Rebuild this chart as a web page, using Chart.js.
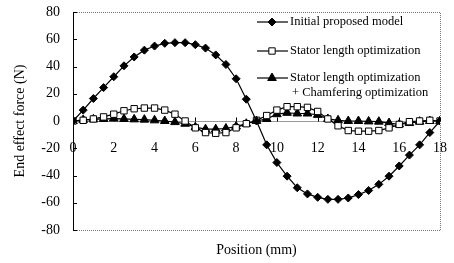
<!DOCTYPE html>
<html><head><meta charset="utf-8">
<script src="https://cdn.jsdelivr.net/npm/chart.js@4/dist/chart.umd.min.js"></script>
<style>html,body{margin:0;padding:0;background:#fff;overflow:hidden}#wrap{width:454px;height:263px;position:relative}</style>
</head><body><div id="wrap"><canvas id="c" width="454" height="263"></canvas></div>
<script>
const positions = [0,0.5,1,1.5,2,2.5,3,3.5,4,4.5,5,5.5,6,6.5,7,7.5,8,8.5,9,9.5,10,10.5,11,11.5,12,12.5,13,13.5,14,14.5,15,15.5,16,16.5,17,17.5,18];
const initialModel = [0,8,16.5,24.5,32.5,40.5,47,52,55,57,57.5,57.5,56,53.5,48.5,41.5,31,16,0,-17.5,-30.5,-40.5,-49,-53.5,-56,-57.5,-57.5,-56.5,-54,-51,-46.5,-40.5,-33,-25,-17.5,-8.5,0];
const statorOpt = [0,0.5,1.5,3,5,7.5,9,9.5,9.5,8,5,0,-5,-8.5,-9,-8.5,-5,-2,0.5,4,8,10.5,10.5,10,7,1.5,-3.5,-7,-7.5,-7.5,-7,-5,-2.5,-0.5,0,0.5,0];
const chamferOpt = [0,0.8,1.2,1.5,1.8,1.5,1.2,1,0.5,0,-0.8,-2,-4.5,-6,-6,-5.5,-4,-2,0,1.5,5,6,5.5,5.5,4.5,1.5,0.5,0,0,-0.3,-0.5,-1.5,-2.5,-1.5,-0.5,0,0];
const xTicks = [0,2,4,6,8,10,12,14,16,18];
const yTicks = [-80,-60,-40,-20,0,20,40,60,80];
const seriesNames = [["Initial proposed model"],["Stator length optimization"],["Stator length optimization","+ Chamfering optimization"]];
const xTitle = "Position (mm)";
const yTitle = "End effect force (N)";

const FONT = "'Liberation Serif','Times New Roman',serif";
const toPts = arr => positions.map((x,i)=>({x:x,y:arr[i]}));

function marker(ctx, style, r, x, y, fill) {
  ctx.beginPath();
  if (style === 'rectRot') {
    ctx.moveTo(x, y - r); ctx.lineTo(x + r, y); ctx.lineTo(x, y + r); ctx.lineTo(x - r, y); ctx.closePath();
  } else if (style === 'rect') {
    const s = r * Math.SQRT1_2; ctx.rect(x - s, y - s, 2 * s, 2 * s);
  } else {
    const c = Math.cos(Math.PI/6) * r;
    ctx.moveTo(x, y - r); ctx.lineTo(x + c, y + r/2); ctx.lineTo(x - c, y + r/2); ctx.closePath();
  }
  ctx.fillStyle = fill; ctx.fill();
  ctx.strokeStyle = '#000'; ctx.lineWidth = 1; ctx.stroke();
}

const decor = {
  id: 'decor',
  afterDraw(chart) {
    const ctx = chart.ctx, a = chart.chartArea;
    const xs = chart.scales.x, ys = chart.scales.y;
    ctx.save();
    ctx.strokeStyle = '#777'; ctx.lineWidth = 1; ctx.setLineDash([1,1]);
    ctx.beginPath();
    ctx.moveTo(a.left, Math.round(a.top) + 0.5); ctx.lineTo(Math.round(a.right) + 0.5, Math.round(a.top) + 0.5);
    ctx.lineTo(Math.round(a.right) + 0.5, Math.round(a.bottom) + 0.5); ctx.lineTo(a.left, Math.round(a.bottom) + 0.5);
    ctx.stroke();
    ctx.setLineDash([]);
    ctx.strokeStyle = '#000'; ctx.lineWidth = 1;
    ctx.beginPath();
    yTicks.forEach(v => { const py = Math.round(ys.getPixelForValue(v)) + 0.5; ctx.moveTo(a.left, py); ctx.lineTo(a.left + 4, py); });
    const zy = Math.round(ys.getPixelForValue(0)) + 0.5;
    xTicks.forEach(v => { const px = Math.round(xs.getPixelForValue(v)) + 0.5; ctx.moveTo(px, zy); ctx.lineTo(px, zy - 4); });
    ctx.stroke();
    ctx.fillStyle = '#000'; ctx.font = '14px ' + FONT; ctx.textAlign = 'center'; ctx.textBaseline = 'middle';
    ctx.fillText(xTitle, (a.left + a.right) / 2, 250);
    const rows = [22, 51, 78];
    ctx.font = '12.5px ' + FONT; ctx.textAlign = 'left';
    chart.data.datasets.forEach((ds, i) => {
      const y = rows[i];
      ctx.strokeStyle = '#000'; ctx.lineWidth = 1.2;
      ctx.beginPath(); ctx.moveTo(257, y); ctx.lineTo(288, y); ctx.stroke();
      marker(ctx, ds.pointStyle, ds.pointRadius, 272, y, ds.pointBackgroundColor);
      ctx.fillStyle = '#000';
      ds.label.forEach((t, j) => ctx.fillText(t, j === 0 ? 290 : 292, y + j * 15));
    });
    ctx.restore();
  }
};

new Chart(document.getElementById('c'), {
  type: 'line',
  data: {
    datasets: [
      { label: seriesNames[0], data: toPts(initialModel), borderColor: '#000', borderWidth: 1.2, pointStyle: 'rectRot', pointRadius: 4, pointBackgroundColor: '#000', pointBorderColor: '#000', pointBorderWidth: 1, tension: 0 },
      { label: seriesNames[1], data: toPts(statorOpt), borderColor: '#000', borderWidth: 1.2, pointStyle: 'rect', pointRadius: 4.5, pointBackgroundColor: '#fff', pointBorderColor: '#000', pointBorderWidth: 1, tension: 0 },
      { label: seriesNames[2], data: toPts(chamferOpt), borderColor: '#000', borderWidth: 1.2, pointStyle: 'triangle', pointRadius: 5, pointBackgroundColor: '#000', pointBorderColor: '#000', pointBorderWidth: 1, tension: 0 }
    ]
  },
  options: {
    responsive: false, devicePixelRatio: 1, animation: false,
    layout: { padding: { left: 0, right: 14, top: 12, bottom: 33 } },
    plugins: { legend: { display: false }, tooltip: { enabled: false }, title: { display: false } },
    scales: {
      x: {
        type: 'linear', min: 0, max: 18, position: { y: 0 },
        afterBuildTicks: s => { s.ticks = xTicks.map(v => ({ value: v })); },
        afterFit: s => { s.paddingLeft = 0; s.paddingRight = 0; },
        grid: { drawOnChartArea: false, drawTicks: false },
        border: { display: true, color: '#999', width: 1 },
        ticks: { color: '#000', font: { family: FONT, size: 14 }, padding: 19, maxRotation: 0, autoSkip: false }
      },
      y: {
        min: -80, max: 80,
        afterBuildTicks: s => { s.ticks = yTicks.map(v => ({ value: v })); },
        afterFit: s => { s.width = 73; s.paddingTop = 0; s.paddingBottom = 0; },
        grid: { drawOnChartArea: false, drawTicks: false },
        border: { display: true, color: '#000', width: 1 },
        ticks: { color: '#000', font: { family: FONT, size: 14 }, padding: 13 },
        title: { display: true, text: yTitle, color: '#000', font: { family: FONT, size: 14 }, padding: { top: 11.6, bottom: 0 } }
      }
    }
  },
  plugins: [decor]
});
</script>
</body></html>
